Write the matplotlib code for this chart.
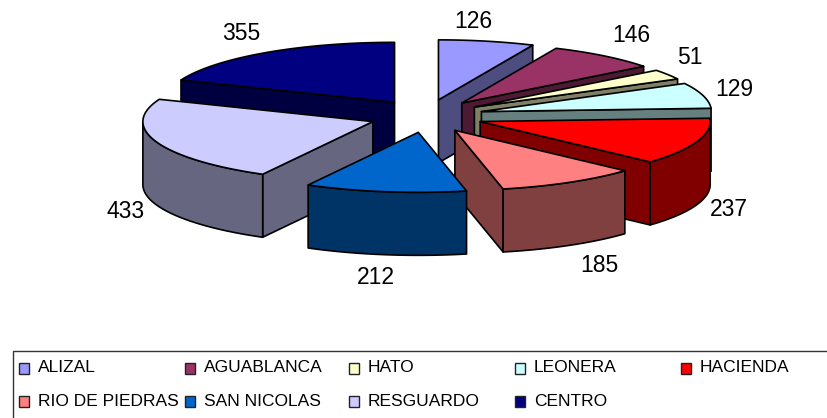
import numpy as np
import matplotlib
matplotlib.use("Agg")
import matplotlib.pyplot as plt
from matplotlib.patches import Polygon, Rectangle
from matplotlib.colors import to_rgb

categories = ["ALIZAL", "AGUABLANCA", "HATO", "LEONERA", "HACIENDA",
              "RIO DE PIEDRAS", "SAN NICOLAS", "RESGUARDO", "CENTRO"]
values = [126, 146, 51, 129, 237, 185, 212, 433, 355]
colors = ["#9999FF", "#993366", "#FFFFCC", "#CCFFFF", "#FF0000",
          "#FF8080", "#0066CC", "#CCCCFF", "#000080"]
label_pos = [(473, 21), (631, 35), (690, 58), (734, 89), (729, 209),
             (599, 265), (376, 277), (126, 212), (241, 33)]

CX, CY, RX, RY, EX, EY, H = 426.5, 116, 230, 60, 57, 16.5, 63

plt.rcParams['font.family'] = ['Liberation Sans', 'DejaVu Sans']
fig = plt.figure(figsize=(8.27, 4.18), dpi=100)
ax = fig.add_axes([0, 0, 1, 1])
ax.set_xlim(0, 827)
ax.set_ylim(418, 0)
ax.axis('off')

edges = np.cumsum([0] + values) / sum(values) * 360.0
EC = 'black'
LW = 1.2


def shade(c):
    return tuple(v * 0.5 for v in to_rgb(c))


def rim(ax0, ay0, a0, a1, n=60):
    t = np.radians(np.linspace(a0, a1, n))
    return np.column_stack([ax0 + RX * np.sin(t), ay0 - RY * np.cos(t)])


slices = []
for i, v in enumerate(values):
    a0, a1 = edges[i], edges[i + 1]
    m = np.radians((a0 + a1) / 2)
    slices.append((CX + EX * np.sin(m), CY - EY * np.cos(m), a0, a1, colors[i]))

# paint back to front
order = sorted(range(len(values)), key=lambda k: (slices[k][1], k))
for z, k in enumerate(order):
    ax0, ay0, a0, a1, col = slices[k]
    dark = shade(col)
    zo = 2 + z

    def add(pts, fc):
        ax.add_patch(Polygon(pts, closed=True, facecolor=fc, edgecolor=EC,
                             linewidth=LW, joinstyle='round', zorder=zo))

    # radial walls
    if 180 < a0 < 360:
        p = rim(ax0, ay0, a0, a0, 1)[0]
        add([(ax0, ay0), p, (p[0], p[1] + H), (ax0, ay0 + H)], dark)
    if 0 < a1 < 180:
        p = rim(ax0, ay0, a1, a1, 1)[0]
        add([(ax0, ay0), p, (p[0], p[1] + H), (ax0, ay0 + H)], dark)
    # outer wall, only the part facing the viewer
    lo, hi = max(a0, 90), min(a1, 270)
    if lo < hi:
        top = rim(ax0, ay0, lo, hi)
        bottom = top[::-1] + np.array([0, H])
        add(np.vstack([top, bottom]), dark)
    # top face
    add(np.vstack([[(ax0, ay0)], rim(ax0, ay0, a0, a1)]), col)

for v, (x, y) in zip(values, label_pos):
    ax.text(x, y, str(v), ha='center', va='center', fontsize=16.5,
            color='black', zorder=30)

# legend frame, open on the right and at the bottom like the reference
ax.plot([13, 13, 827], [418, 351, 351], color='#333333', lw=1.0,
        solid_joinstyle='miter', zorder=30, clip_on=False)
leg_x = [24, 190, 354, 520, 686]
leg_y = [368, 401]
for i, name in enumerate(categories):
    x = leg_x[i % 5]
    y = leg_y[i // 5]
    ax.add_patch(Rectangle((x - 5, y - 5.5), 10, 11, facecolor=colors[i],
                           edgecolor='#222222', linewidth=1.0, zorder=30))
    ax.text(x + 14, y, name, ha='left', va='center', fontsize=12.5,
            color='black', zorder=30)

fig.savefig('out.png', dpi=100, facecolor='white')
